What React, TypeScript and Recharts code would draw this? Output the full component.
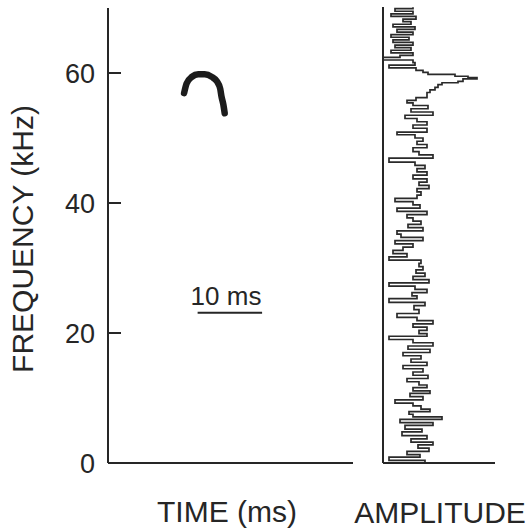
import { LineChart, Line, XAxis, YAxis, ReferenceLine } from "recharts";

const INK = "#262626";
const FONT = '"Liberation Sans", Arial, Helvetica, sans-serif';

// y axis ticks (kHz)
const freqTicks = [0, 20, 40, 60];

// call trace, left panel (ms, kHz)
const arcTime = [11.8, 12.2, 13.0, 14.0, 15.0, 16.1, 16.9, 17.4, 17.6, 17.9, 18.1];
const arcFreq = [56.9, 58.4, 59.4, 59.8, 59.8, 59.4, 58.7, 57.6, 56.4, 55.1, 53.8];

// amplitude spectrum, right panel (kHz, relative amplitude)
const specFreq = [
  0.0, 0.4, 0.9, 1.3, 1.8, 2.3, 2.8, 3.2, 3.7, 4.2, 4.8, 5.2, 5.8, 6.2, 6.7, 7.1,
  7.5, 7.9, 8.3, 8.8, 9.2, 9.7, 10.2, 10.7, 11.1, 11.6, 12.0, 12.5, 13.0, 13.5,
  14.0, 14.5, 15.0, 15.5, 16.0, 16.5, 17.0, 17.5, 18.0, 18.5, 19.0, 19.5, 19.9,
  20.4, 20.9, 21.4, 21.9, 22.4, 23.0, 23.6, 24.2, 24.7, 25.3, 25.7, 26.2, 26.7,
  27.2, 27.7, 28.2, 28.7, 29.2, 29.7, 30.2, 30.7, 31.2, 31.7, 32.2, 32.7, 33.2,
  33.7, 34.2, 34.7, 35.2, 35.7, 36.2, 36.7, 37.2, 37.7, 38.2, 38.7, 39.2, 39.7,
  40.2, 40.7, 41.2, 41.7, 42.2, 42.7, 43.2, 43.7, 44.3, 44.8, 45.3, 45.8, 46.3,
  46.9, 47.4, 47.9, 48.5, 49.0, 49.5, 50.0, 50.5, 50.9, 51.5, 52.0, 52.5, 53.0,
  53.5, 54.0, 54.5, 55.0, 55.4, 55.8, 56.2, 56.6, 57.0, 57.4, 57.8, 58.2, 58.5,
  58.7, 59.1, 59.3, 59.5, 59.8, 60.1, 60.4, 60.8, 61.2, 61.6, 62.0, 62.4, 62.7,
  63.1, 63.5, 63.9, 64.3, 64.7, 65.1, 65.5, 65.9, 66.3, 66.7, 67.1, 67.5, 67.9,
  68.3, 68.7, 69.1, 69.5, 69.9, 70.1,
];
const specAmp = [
  24, 42, 6, 37, 24, 46, 35, 50, 28, 44, 19, 39, 22, 50, 17, 59,
  30, 26, 47, 38, 30, 12, 40, 27, 47, 30, 44, 36, 24, 45,
  30, 40, 20, 44, 28, 38, 20, 47, 25, 50, 30, 6, 44,
  36, 44, 30, 50, 34, 14, 36, 31, 42, 6, 34, 29, 44,
  32, 6, 46, 30, 42, 33, 40, 36, 38, 6, 24, 10, 20,
  30, 12, 40, 18, 14, 40, 25, 38, 30, 24, 44, 14, 37,
  30, 12, 34, 38, 34, 46, 36, 44, 30, 44, 34, 42, 32,
  6, 50, 36, 30, 44, 34, 40, 32, 14, 44, 30, 44, 34,
  22, 50, 28, 45, 30, 24, 33, 44, 44, 47, 52, 55, 59,
  75, 80, 94, 85, 72, 45, 40, 33, 6, 32, 30, 0, 17,
  30, 8, 28, 12, 30, 10, 26, 8, 30, 14, 32, 10, 28,
  20, 33, 8, 30, 12, 30,
];

const arcData = arcTime.map((t, i) => ({ t, f: arcFreq[i] }));
const specData = specFreq.map((f, i) => ({ f, a: specAmp[i] }));

const AXIS_X = 108;

const FreqTick = ({ y, payload }: any) => (
  <g>
    <line x1={AXIS_X} x2={AXIS_X + 13} y1={y} y2={y} stroke={INK} strokeWidth={2} />
    <text x={95} y={y + 10} textAnchor="end" fontSize={27} fill={INK} fontFamily={FONT}>
      {payload.value}
    </text>
  </g>
);

export default function App() {
  return (
    <div style={{ position: "absolute", left: 0, top: 0, width: 527, height: 528, background: "#fff" }}>
      {/* time / frequency panel */}
      <div style={{ position: "absolute", left: 0, top: 0 }}>
        <LineChart width={360} height={480} data={arcData} margin={{ top: 8, right: 7, bottom: 16, left: 0 }}>
          <XAxis
            type="number"
            dataKey="t"
            domain={[0, 38]}
            height={1}
            tick={false}
            tickLine={false}
            axisLine={{ stroke: INK, strokeWidth: 2 }}
          />
          <YAxis
            type="number"
            domain={[0, 70]}
            ticks={freqTicks}
            width={AXIS_X}
            tickLine={false}
            tick={<FreqTick />}
            axisLine={{ stroke: INK, strokeWidth: 2 }}
          />
          <ReferenceLine
            segment={[
              { x: 13.9, y: 23.1 },
              { x: 23.9, y: 23.1 },
            ]}
            stroke={INK}
            strokeWidth={2}
          />
          <Line
            type="monotone"
            dataKey="f"
            stroke="#1c1c1c"
            strokeWidth={6.5}
            strokeLinecap="round"
            dot={false}
            isAnimationActive={false}
          />
        </LineChart>
      </div>

      {/* amplitude spectrum panel */}
      <div style={{ position: "absolute", left: 360, top: 0 }}>
        <LineChart
          width={140}
          height={480}
          layout="vertical"
          data={specData}
          margin={{ top: 7, right: 5, bottom: 16, left: 22 }}
        >
          <XAxis
            type="number"
            domain={[0, 112]}
            height={1}
            tick={false}
            tickLine={false}
            axisLine={{ stroke: INK, strokeWidth: 2 }}
          />
          <YAxis
            type="number"
            dataKey="f"
            domain={[0, 70.15]}
            reversed
            width={1}
            tick={false}
            tickLine={false}
            axisLine={{ stroke: INK, strokeWidth: 2 }}
          />
          <Line
            type="stepAfter"
            dataKey="a"
            stroke="#2a2a2a"
            strokeWidth={1.7}
            dot={false}
            isAnimationActive={false}
          />
        </LineChart>
      </div>

      {/* titles */}
      <svg
        width={527}
        height={528}
        style={{ position: "absolute", left: 0, top: 0, pointerEvents: "none" }}
        fontFamily={FONT}
        fill={INK}
      >
        <text x={33} y={239} fontSize={30} textAnchor="middle" transform="rotate(-90 33 239)">
          FREQUENCY (kHz)
        </text>
        <text x={227} y={522} fontSize={30} textAnchor="middle">
          TIME (ms)
        </text>
        <text x={440} y={523} fontSize={30} textAnchor="middle">
          AMPLITUDE
        </text>
        <text x={226} y={305} fontSize={26} textAnchor="middle">
          10 ms
        </text>
      </svg>
    </div>
  );
}
